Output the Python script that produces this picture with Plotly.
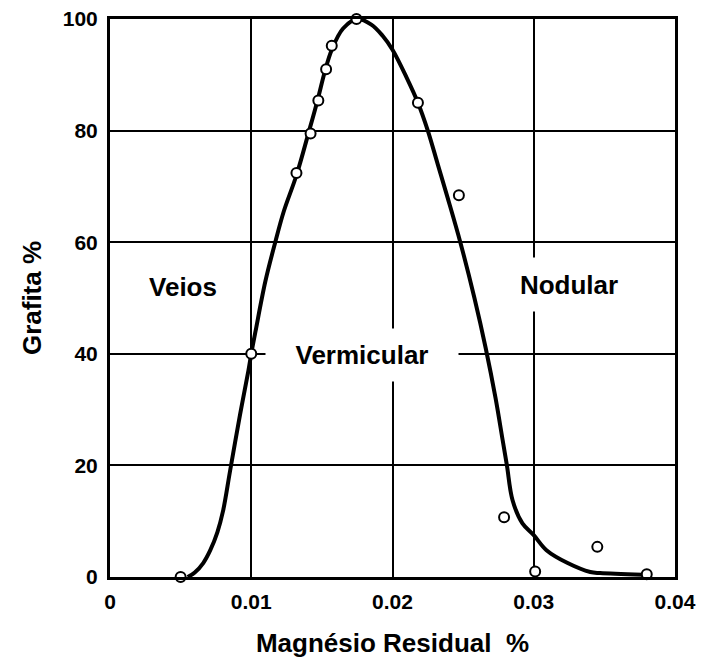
import plotly.graph_objects as go

# measured data points (Magnésio residual %, Grafita %)
pts_x = [0.0050, 0.0100, 0.0132, 0.0142, 0.01475, 0.0153, 0.0157, 0.01745,
         0.0218, 0.0247, 0.0279, 0.0301, 0.0345, 0.0380]
pts_y = [0, 40, 72.4, 79.5, 85.4, 91, 95.2, 100, 85, 68.4, 10.7, 1, 5.4, 0.5]

# fitted curve
curve_x = [0.0055, 0.0060, 0.0066, 0.0071, 0.0076, 0.0080, 0.0085,
           0.0092, 0.0098, 0.0100, 0.0103, 0.0110, 0.0117, 0.0123, 0.0132,
           0.0141, 0.0147, 0.0152, 0.0157, 0.0165, 0.0175, 0.0185, 0.0193,
           0.0200, 0.0210, 0.0218, 0.0225, 0.0232, 0.0239, 0.0248, 0.0258,
           0.0266, 0.0273, 0.0278, 0.0281, 0.0285, 0.0292, 0.0300, 0.0309,
           0.0324, 0.0340, 0.0347, 0.0377]
curve_y = [0, 0.8, 2.5, 4.8, 8.0, 11.8, 19,
           29, 37, 40, 44, 53, 60, 65.5, 72,
           80, 85.5, 90.5, 94.5, 98.3, 100, 99, 97,
           94.5, 89.5, 85, 80, 74, 68, 60, 50,
           41, 32, 24.5, 20, 13.75, 9.6, 7.5, 4.8,
           2.5, 0.9, 0.7, 0.4]

x_ticks = [0, 0.01, 0.02, 0.03, 0.04]
x_tick_labels = ["0", "0.01", "0.02", "0.03", "0.04"]
y_ticks = [0, 20, 40, 60, 80, 100]
y_tick_labels = ["0", "20", "40", "60", "80", "100"]

tick_font = dict(family="Liberation Sans, Arial, sans-serif", size=21, color="black", weight="bold")
label_font = dict(family="Liberation Sans, Arial, sans-serif", size=26, color="black")

fig = go.Figure()
fig.add_trace(go.Scatter(x=curve_x, y=curve_y, mode="lines",
                         line=dict(color="black", width=4, shape="spline", smoothing=1.0),
                         cliponaxis=False, hoverinfo="skip"))
fig.add_trace(go.Scatter(x=pts_x, y=pts_y, mode="markers",
                         marker=dict(symbol="circle", size=10, color="white",
                                     line=dict(color="black", width=2)),
                         cliponaxis=False))

annots = [
    dict(x=0.00517, y=52.0, text="<b>Veios</b>", width=90, height=40),
    dict(x=0.01784, y=39.75, text="<b>Vermicular</b>", width=190, height=50),
    dict(x=0.03246, y=52.4, text="<b>Nodular</b>", width=110, height=51),
]
for a in annots:
    fig.add_annotation(x=a["x"], y=a["y"], xref="x", yref="y", text=a["text"],
                       showarrow=False, font=label_font, bgcolor="white",
                       width=a["width"], height=a["height"])

fig.update_layout(
    width=705, height=664,
    margin=dict(l=102, r=38, t=11, b=95),
    paper_bgcolor="white", plot_bgcolor="white",
    showlegend=False,
)
fig.update_xaxes(range=[0, 0.04], tickvals=x_ticks, ticktext=x_tick_labels,
                 showgrid=True, gridcolor="black", gridwidth=2,
                 showline=True, linecolor="black", linewidth=3, mirror=True,
                 zeroline=False, ticks="", ticklabelstandoff=4, automargin=False,
                 ticklabeloverflow="allow",
                 tickfont=tick_font,
                 title=dict(text="<b>Magnésio Residual\u00a0\u00a0%</b>", font=label_font, standoff=22))
fig.update_yaxes(range=[0, 100], tickvals=y_ticks, ticktext=y_tick_labels,
                 showgrid=True, gridcolor="black", gridwidth=2,
                 showline=True, linecolor="black", linewidth=3, mirror=True,
                 zeroline=False, ticks="", ticklabelstandoff=5, automargin=False,
                 ticklabeloverflow="allow",
                 tickfont=tick_font,
                 title=dict(text="<b>Grafita %</b>", font=label_font, standoff=14))

fig.write_html("out.html")
